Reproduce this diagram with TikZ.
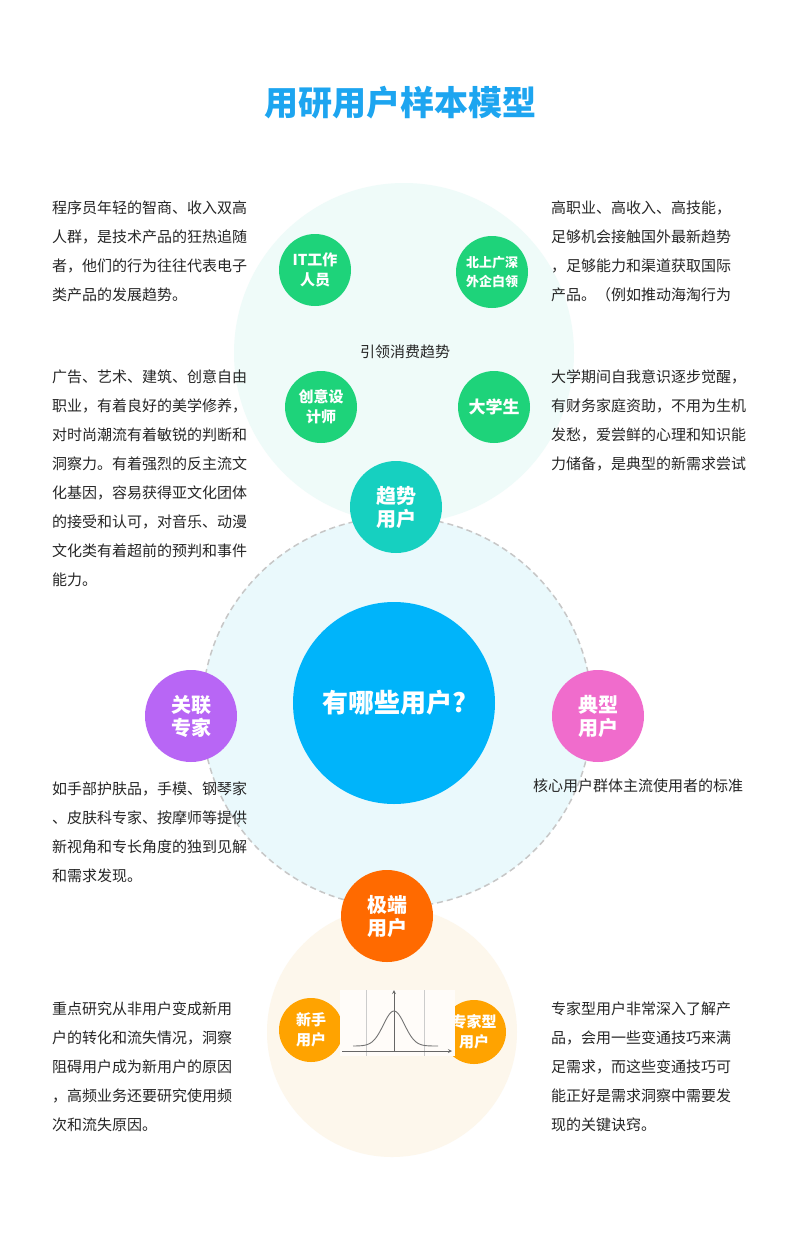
\documentclass[tikz,border=0pt]{standalone}
\usepackage{fontspec}
\setmainfont{Noto Sans CJK SC}
\definecolor{tc}{HTML}{1DA5F0}
\definecolor{gr}{HTML}{1ED37A}
\definecolor{og}{HTML}{FFA300}
\definecolor{teal1}{RGB}{22,208,192}
\definecolor{blue1}{RGB}{0,180,250}
\definecolor{purp}{RGB}{184,102,245}
\definecolor{pink1}{RGB}{240,108,204}
\definecolor{orng}{RGB}{255,106,0}
\definecolor{bgtop}{RGB}{239,251,249}
\definecolor{bgmid}{RGB}{234,249,252}
\definecolor{bgbot}{RGB}{253,247,236}
\begin{document}
\begin{tikzpicture}[x=1pt,y=-1pt,
  bub/.style={circle,fill=#1,text=white,font=\bfseries\fontsize{20}{23}\selectfont,align=center,inner sep=0pt},
  sbub/.style={circle,fill=#1,text=white,font=\bfseries\fontsize{15}{20}\selectfont,align=center,inner sep=0pt},
  para/.style={anchor=north west,inner sep=0pt,align=left,font=\fontsize{15}{29}\selectfont,text=black!85}]
\fill[white] (0,0) rectangle (800,1240);
\useasboundingbox (0,0) rectangle (800,1240);
\node[text=tc,font=\bfseries\fontsize{34}{40}\selectfont] (title) at (400,103) {用研用户样本模型};
\fill[bgtop] (404,353) circle (170);
\fill[bgbot] (392,1032) circle (125);
\draw[fill=bgmid,draw=black!22,line width=1.5pt,dash pattern=on 6pt off 4pt] (397,712) circle (195);
\node[sbub=gr,minimum size=72pt] (it) at (315,270) {IT工作\\人员};
\node[sbub=gr,minimum size=72pt,font=\bfseries\fontsize{13}{19}\selectfont] (bs) at (492,272) {北上广深\\外企白领};
\node[sbub=gr,minimum size=72pt] (cy) at (321,407) {创意设\\计师};
\node[sbub=gr,minimum size=72pt,font=\bfseries\fontsize{17}{20}\selectfont] (dx) at (494,407) {大学生};
\node[font=\fontsize{15}{18}\selectfont,text=black!85] (yl) at (405,352) {引领消费趋势};
\node[bub=teal1,minimum size=92pt] (qs) at (396,507) {趋势\\用户};
\node[circle,fill=blue1,minimum size=202pt,text=white,font=\bfseries\fontsize{26}{30}\selectfont] (c) at (394,703) {有哪些用户?};
\node[bub=purp,minimum size=92pt] (gl) at (191,716) {关联\\专家};
\node[bub=pink1,minimum size=92pt] (dy) at (598,716) {典型\\用户};
\node[bub=orng,minimum size=92pt] (jd) at (387,916) {极端\\用户};
\node[sbub=og,minimum size=64pt] (xs) at (311,1030) {新手\\用户};
\node[sbub=og,minimum size=64pt] (zj) at (474,1032) {专家型\\用户};
% graph
\fill[white!70!orange!8] (340,990) rectangle (455,1056);
\draw[black!20,line width=0.8pt] (366,990) -- (366,1056) (424,990) -- (424,1056);
\coordinate (ax0) at (342,1051); \coordinate (ax1) at (452,1051);
\coordinate (ay0) at (394,1051); \coordinate (ay1) at (394,990);
\draw[black!60,line width=0.8pt,-stealth] (ax0) -- (ax1);
\draw[black!60,line width=0.8pt,-stealth] (ay0) -- (ay1);
\draw[black!55,line width=0.9pt] plot[domain=353:438,samples=60,smooth] (\x,{1046-35*exp(-((\x-394)/15)^2)});
% texts
\node[para] (t1) at (52,201) {程序员年轻的智商、收入双高\\人群，是技术产品的狂热追随\\者，他们的行为往往代表电子\\类产品的发展趋势。};
\node[para] (t2) at (52,370) {广告、艺术、建筑、创意自由\\职业，有着良好的美学修养，\\对时尚潮流有着敏锐的判断和\\洞察力。有着强烈的反主流文\\化基因，容易获得亚文化团体\\的接受和认可，对音乐、动漫\\文化类有着超前的预判和事件\\能力。};
\node[para] (t3) at (52,782) {如手部护肤品，手模、钢琴家\\、皮肤科专家、按摩师等提供\\新视角和专长角度的独到见解\\和需求发现。};
\node[para] (t4) at (52,1002) {重点研究从非用户变成新用\\户的转化和流失情况，洞察\\阻碍用户成为新用户的原因\\，高频业务还要研究使用频\\次和流失原因。};
\node[para] (t5) at (551,201) {高职业、高收入、高技能，\\足够机会接触国外最新趋势\\，足够能力和渠道获取国际\\产品。（例如推动海淘行为};
\node[para] (t6) at (551,370) {大学期间自我意识逐步觉醒，\\有财务家庭资助，不用为生机\\发愁，爱尝鲜的心理和知识能\\力储备，是典型的新需求尝试};
\node[para] (t7) at (551,1002) {专家型用户非常深入了解产\\品，会用一些变通技巧来满\\足需求，而这些变通技巧可\\能正好是需求洞察中需要发\\现的关键诀窍。};
\node[font=\fontsize{15}{18}\selectfont,text=black!85] (t8) at (638,786) {核心用户群体主流使用者的标准};
\end{tikzpicture}
\end{document}
